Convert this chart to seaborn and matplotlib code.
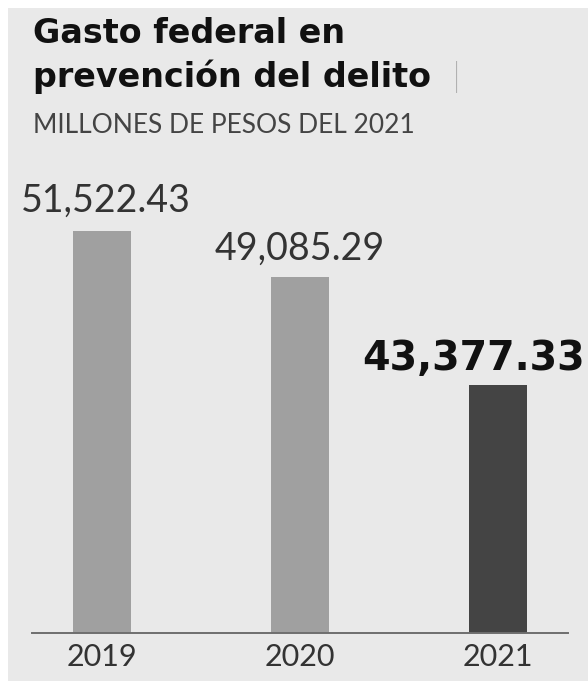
import matplotlib
matplotlib.use("Agg")
import matplotlib.pyplot as plt
import seaborn as sns
import pandas as pd
from matplotlib.patches import Rectangle

years = ["2019", "2020", "2021"]
values = [51522.43, 49085.29, 43377.33]
labels = ["51,522.43", "49,085.29", "43,377.33"]
bar_colors = ["#a0a0a0", "#a0a0a0", "#444444"]

title_lines = ["Gasto federal en", "prevención del delito"]
subtitle = "MILLONES DE PESOS DEL 2021"

sns.set_theme(style="white")
plt.rcParams['font.family'] = ['Lato', 'DejaVu Sans']

W, H = 588, 681
fig = plt.figure(figsize=(W / 100, H / 100), dpi=100, facecolor="white")
fig.patches.append(Rectangle((8 / W, 0), 1 - 8 / W, (H - 8) / H, transform=fig.transFigure,
                             facecolor="#e9e9e9", edgecolor="none", zorder=-10))

ax = fig.add_axes([32 / W, (H - 633) / H, (568 - 32) / W, (633 - 150) / H])
ax.set_facecolor("none")
ax.set_zorder(5)

df = pd.DataFrame({"year": years, "value": values})
sns.barplot(data=df, x="year", y="value", hue="year",
            palette=dict(zip(years, bar_colors)), width=0.29, legend=False, ax=ax,
            saturation=1, linewidth=0)

ax.set_xlim(-0.354, 2.354)
ax.set_ylim(30229, 55812)
for s in ["top", "right", "left"]:
    ax.spines[s].set_visible(False)
ax.spines["bottom"].set_color("#6e6e6e")
ax.spines["bottom"].set_linewidth(1.4)
ax.set_yticks([])
ax.set_xlabel("")
ax.set_ylabel("")
ax.tick_params(axis="x", length=0, pad=7, labelsize=22, labelcolor="#333333")
for t in ax.get_xticklabels():
    t.set_fontweight("normal")

offsets = [(4, 19), (0, 17), (-24, 15)]
for i, (v, lab) in enumerate(zip(values, labels)):
    bold = i == len(values) - 1
    ax.annotate(lab, xy=(i, v), xytext=offsets[i], textcoords="offset pixels",
                ha="center", va="baseline",
                fontsize=28.5 if bold else 27,
                fontweight="bold" if bold else "normal",
                family=["DejaVu Sans"] if bold else ["Lato", "DejaVu Sans"],
                color="#111111" if bold else "#333333", annotation_clip=False)

tfont = ["DejaVu Sans"]
fig.text(33 / W, (H - 43) / H, title_lines[0], fontsize=24, fontweight="bold",
         family=tfont, color="#111111", va="baseline", ha="left")
fig.text(33 / W, (H - 87) / H, title_lines[1], fontsize=24, fontweight="bold",
         family=tfont, color="#111111", va="baseline", ha="left")
fig.text(452 / W, (H - 87) / H, "|", fontsize=24, fontweight="light",
         color="#555555", va="baseline", ha="left")
fig.text(33 / W, (H - 133) / H, subtitle, fontsize=19, fontweight="normal",
         color="#444444", va="baseline", ha="left")

fig.savefig("out.png", dpi=100, facecolor="white")
